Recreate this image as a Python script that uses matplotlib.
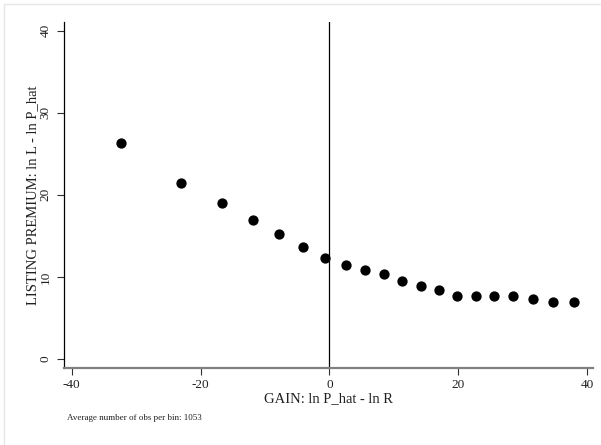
import matplotlib
matplotlib.use("Agg")
import matplotlib.pyplot as plt
from matplotlib.lines import Line2D

# binned scatter: gain vs listing premium
gain = [-32.4, -23.0, -16.7, -11.9, -7.8, -4.1, -0.7, 2.5, 5.5, 8.4,
        11.3, 14.2, 17.0, 19.8, 22.7, 25.6, 28.5, 31.6, 34.7, 37.9]
premium = [26.3, 21.5, 19.0, 16.9, 15.2, 13.7, 12.3, 11.5, 10.9, 10.3,
           9.55, 8.9, 8.4, 7.7, 7.65, 7.65, 7.65, 7.3, 7.0, 7.0]
x_ticks = [-40, -20, 0, 20, 40]
y_ticks = [0, 10, 20, 30, 40]
note = "Average number of obs per bin: 1053"

plt.rcParams["font.family"] = ["Liberation Serif", "DejaVu Serif"]
plt.rcParams["axes.unicode_minus"] = False

fig = plt.figure(figsize=(6.01, 4.45), dpi=100)
ax = fig.add_axes([64 / 601, 1 - 368 / 445, (593 - 64) / 601, (368 - 21.7) / 445])

ax.plot(gain, premium, "o", color="black", ms=6.4, zorder=3)
ax.axvline(0, color="black", lw=0.9, zorder=2)

ax.set_xlim(-41.2, 40.9)
ax.set_ylim(-1.1, 41.1)
ax.set_xticks(x_ticks)
ax.set_yticks(y_ticks)
ax.set_yticklabels([str(v) for v in y_ticks], rotation=90, va="center")

for side in ("top", "right"):
    ax.spines[side].set_visible(False)
ax.spines["left"].set_color("black")
ax.spines["left"].set_linewidth(0.9)
ax.spines["bottom"].set_color("#808080")
ax.spines["bottom"].set_linewidth(1.6)
ax.tick_params(axis="both", direction="out", length=5, width=0.8, color="#303030",
               labelsize=9.5, labelcolor="#202020", pad=3)
ax.tick_params(axis="y", pad=4)

ax.set_xlabel("GAIN: ln P_hat - ln R", fontsize=10.5, color="#202020", labelpad=1)
ax.set_ylabel("LISTING PREMIUM: ln L - ln P_hat", fontsize=10.5, color="#202020", labelpad=0)

fig.text(67 / 601, 1 - 418 / 445, note, fontsize=6.5, color="#202020", va="center")

# faint graph-region outline
fig.add_artist(Line2D([4 / 601, 4 / 601], [0, 1 - 4 / 445], transform=fig.transFigure,
                      color="#e6e6e6", lw=1))
fig.add_artist(Line2D([4 / 601, 1], [1 - 4 / 445, 1 - 4 / 445], transform=fig.transFigure,
                      color="#e6e6e6", lw=1))

fig.savefig("out.png", dpi=100)
